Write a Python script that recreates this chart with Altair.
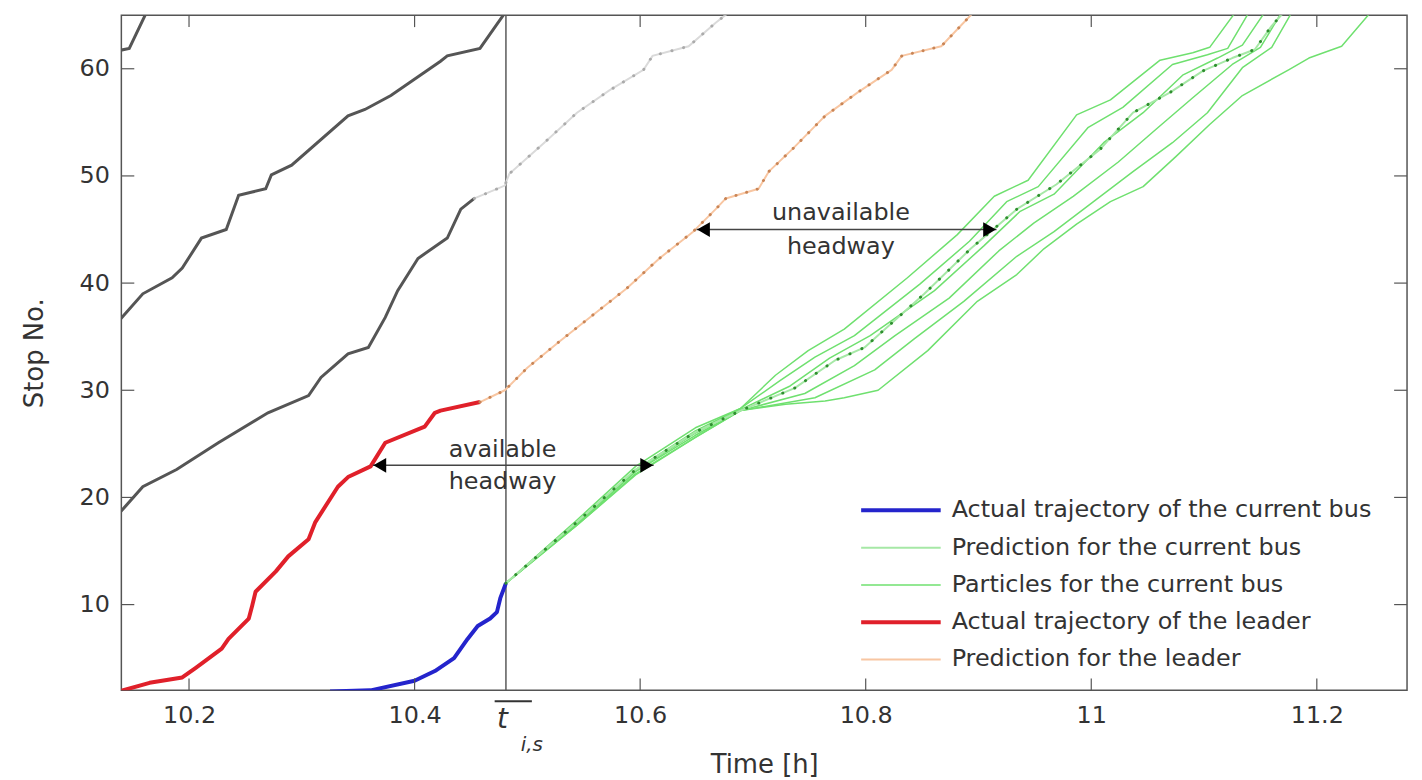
import altair as alt
import pandas as pd

# ---------------- data ----------------
T_MIN, T_MAX = 10.14, 11.28
S_MIN, S_MAX = 2, 65
x_ticks = [10.2, 10.4, 10.6, 10.8, 11.0, 11.2]
y_ticks = [10, 20, 30, 40, 50, 60]
t_is = 10.481

# other buses (gray)
gray_a_t = [10.138, 10.147, 10.162]
gray_a_s = [61.7, 61.9, 65.2]
gray_b_t = [10.138, 10.159, 10.185, 10.194, 10.211, 10.233, 10.244, 10.256, 10.268, 10.273,
            10.291, 10.341, 10.356, 10.379, 10.423, 10.429, 10.458, 10.480]
gray_b_s = [36.5, 39.0, 40.5, 41.4, 44.2, 45.0, 48.2, 48.5, 48.8, 50.1,
            51.0, 55.6, 56.2, 57.5, 60.7, 61.2, 61.9, 65.2]
gray_c_t = [10.138, 10.159, 10.189, 10.226, 10.270, 10.306, 10.317, 10.341, 10.359, 10.374,
            10.385, 10.403, 10.429, 10.441, 10.453]
gray_c_s = [18.5, 21.0, 22.6, 25.1, 27.9, 29.5, 31.2, 33.4, 34.0, 36.8,
            39.3, 42.3, 44.2, 46.9, 47.9]
ltgray_t = [10.453, 10.480, 10.484, 10.515, 10.544, 10.573, 10.603, 10.611, 10.643, 10.667, 10.678]
ltgray_s = [47.9, 49.1, 50.2, 53.1, 55.9, 58.0, 59.9, 61.2, 62.1, 64.3, 65.2]

# leader
red_t = [10.138, 10.165, 10.194, 10.206, 10.229, 10.235, 10.253, 10.256, 10.259, 10.277, 10.288,
         10.306, 10.312, 10.332, 10.341, 10.361, 10.374, 10.409, 10.418, 10.423, 10.458]
red_s = [1.9, 2.7, 3.2, 4.1, 5.9, 6.8, 8.7, 9.9, 11.2, 13.1, 14.5,
         16.1, 17.7, 21.0, 21.9, 22.9, 25.1, 26.6, 27.9, 28.1, 28.9]
orange_t = [10.458, 10.480, 10.500, 10.529, 10.559, 10.588, 10.617, 10.647, 10.667, 10.676,
            10.705, 10.714, 10.735, 10.764, 10.793, 10.823, 10.832, 10.867, 10.876, 10.895]
orange_s = [28.9, 30.0, 32.1, 34.6, 37.1, 39.5, 42.3, 44.8, 46.9, 47.9,
            48.8, 50.4, 52.5, 55.6, 57.8, 59.9, 61.2, 62.1, 63.1, 65.2]

# current bus
blue_t = [10.325, 10.361, 10.400, 10.418, 10.435, 10.447, 10.456, 10.467, 10.473, 10.476, 10.481]
blue_s = [1.9, 2.0, 2.9, 3.8, 5.0, 6.8, 8.0, 8.7, 9.3, 10.6, 12.0]

pred_t = [10.481, 10.544, 10.596, 10.649, 10.689, 10.737, 10.773, 10.799, 10.852, 10.893,
          10.934, 10.969, 11.008, 11.037, 11.070, 11.099, 11.125, 11.145, 11.160, 11.171]
pred_s = [12.0, 17.7, 22.6, 26.1, 28.1, 30.2, 32.8, 34.0, 39.0, 43.2,
          46.9, 49.2, 52.5, 55.9, 57.8, 59.8, 61.0, 61.8, 64.0, 65.3]

p1_t = [10.481, 10.544, 10.596, 10.649, 10.689, 10.720, 10.749, 10.781, 10.837, 10.881,
        10.914, 10.944, 10.987, 11.017, 11.061, 11.090, 11.105, 11.128]
p1_s = [12.0, 17.9, 22.9, 26.5, 28.3, 31.4, 33.7, 35.7, 40.5, 44.5,
        48.1, 49.6, 55.7, 57.1, 60.8, 61.5, 62.0, 65.3]
p2_t = [10.481, 10.544, 10.596, 10.649, 10.689, 10.724, 10.755, 10.790, 10.848, 10.892,
        10.925, 10.953, 10.997, 11.028, 11.072, 11.103, 11.121, 11.140]
p2_s = [12.0, 17.7, 22.6, 26.2, 28.3, 30.9, 33.1, 35.1, 39.9, 43.9,
        47.6, 49.0, 54.5, 56.4, 60.4, 61.3, 61.9, 65.3]
p3_t = [10.481, 10.544, 10.596, 10.649, 10.689, 10.733, 10.768, 10.804, 10.861, 10.905,
        10.937, 10.967, 11.011, 11.046, 11.081, 11.112, 11.134, 11.154]
p3_s = [12.0, 17.6, 22.5, 26.0, 28.2, 30.4, 33.0, 35.1, 39.3, 43.5,
        46.7, 48.3, 53.1, 55.9, 59.4, 61.0, 62.2, 65.3]
p4_t = [10.481, 10.544, 10.596, 10.649, 10.689, 10.746, 10.790, 10.826, 10.874, 10.918,
        10.949, 10.984, 11.024, 11.059, 11.090, 11.125, 11.150, 11.169]
p4_s = [12.0, 17.5, 22.4, 25.8, 28.1, 29.7, 32.3, 35.1, 38.6, 43.0,
        45.6, 48.1, 51.3, 54.5, 57.3, 60.4, 62.0, 65.3]
p5_t = [10.481, 10.544, 10.596, 10.649, 10.689, 10.755, 10.808, 10.843, 10.887, 10.934,
        10.967, 11.002, 11.037, 11.072, 11.103, 11.134, 11.160, 11.178]
p5_s = [12.0, 17.4, 22.2, 25.6, 28.1, 29.3, 31.9, 34.8, 38.3, 42.5,
        44.8, 47.6, 50.4, 53.1, 55.9, 60.1, 62.0, 65.3]
p6_t = [10.481, 10.544, 10.596, 10.649, 10.689, 10.729, 10.764, 10.781, 10.811, 10.855,
        10.899, 10.934, 10.958, 10.987, 11.017, 11.046, 11.075, 11.105, 11.134, 11.175,
        11.193, 11.222, 11.248]
p6_s = [12.0, 17.4, 22.1, 25.6, 28.1, 28.7, 29.0, 29.3, 30.0, 33.7,
        38.3, 40.8, 43.2, 45.5, 47.6, 49.0, 51.8, 54.8, 57.5, 59.9,
        61.0, 62.1, 65.3]

# headway arrows
arrow_t0 = [10.363, 10.650]
arrow_t1 = [10.612, 10.916]
arrow_s = [23.0, 45.0]
note_t = [10.478, 10.478, 10.778, 10.778]
note_s = [24.4, 21.4, 46.5, 43.4]
note_txt = ["available", "headway", "unavailable", "headway"]

# legend
S_BLUE = "Actual trajectory of the current bus"
S_PRED = "Prediction for the current bus"
S_PART = "Particles for the current bus"
S_RED = "Actual trajectory of the leader"
S_ORNG = "Prediction for the leader"
legend_names = [S_BLUE, S_PRED, S_PART, S_RED, S_ORNG]
legend_colors = ["#2424cc", "#a6e8a6", "#6fe06f", "#e0202a", "#f8c6a2"]
legend_widths = [4, 2, 1.5, 4, 2]


# ---------------- tables ----------------
def seg(ts, ss, line, series):
    return pd.DataFrame({"t": ts, "s": ss, "line": line, "series": series,
                         "idx": list(range(len(ts)))})


gray_df = pd.concat([seg(gray_a_t, gray_a_s, "a", "g"),
                     seg(gray_b_t, gray_b_s, "b", "g"),
                     seg(gray_c_t, gray_c_s, "c", "g")])
ltgray_df = seg(ltgray_t, ltgray_s, "lg", "lg")
particles = [(p1_t, p1_s), (p2_t, p2_s), (p3_t, p3_s), (p4_t, p4_s), (p5_t, p5_s), (p6_t, p6_s)]
main_df = pd.concat(
    [seg(pt, ps, f"p{i}", S_PART) for i, (pt, ps) in enumerate(particles)]
    + [seg(pred_t, pred_s, "pred", S_PRED),
       seg(orange_t, orange_s, "orange", S_ORNG),
       seg(red_t, red_s, "red", S_RED),
       seg(blue_t, blue_s, "blue", S_BLUE)])
pred_df = seg(pred_t, pred_s, "pred", S_PRED)
orange_df = seg(orange_t, orange_s, "orange", S_ORNG)
arrows_df = pd.DataFrame({"t0": arrow_t0, "t1": arrow_t1, "s": arrow_s})
notes_df = pd.DataFrame({"t": note_t, "s": note_s, "txt": note_txt})

# ---------------- chart ----------------
W, H = 1293, 679
FONT = "DejaVu Sans"
TXT = "#333333"
FRAME = "#555555"

xs = alt.Scale(domain=[T_MIN, T_MAX], nice=False, zero=False)
ys = alt.Scale(domain=[S_MIN, S_MAX], nice=False, zero=False)
x_axis = alt.Axis(values=x_ticks, format="~g", title="Time [h]", labelPadding=13,
                  titlePadding=25, labelFlush=False)
y_axis = alt.Axis(values=y_ticks, title="Stop No.", labelPadding=12, titlePadding=32)


def X(f):
    return alt.X(f, type="quantitative", scale=xs, axis=x_axis)


def Y(f):
    return alt.Y(f, type="quantitative", scale=ys, axis=y_axis)


leg = alt.Legend(title=None, orient="none", legendX=772, legendY=486,
                 symbolType="M-4,0H4", symbolSize=400, symbolStrokeWidth=3,
                 labelFont=FONT, labelFontSize=24, labelColor=TXT, labelOffset=39,
                 rowPadding=13.5, padding=0, labelLimit=700)

vline = alt.Chart(pd.DataFrame({"t": [t_is]})).mark_rule(color="#5a5a5a", strokeWidth=1.5).encode(x=X("t"))

gray = alt.Chart(gray_df).mark_line(color="#555555", strokeWidth=3, clip=True).encode(
    x=X("t"), y=Y("s"), detail="line:N", order="idx:Q")
ltgray = alt.Chart(ltgray_df).mark_line(color="#dadada", strokeWidth=2, clip=True).encode(
    x=X("t"), y=Y("s"), order="idx:Q")
ltgray_dots = alt.Chart(ltgray_df).mark_line(color="#ababab", strokeWidth=3, strokeDash=[0.1, 12],
                                             strokeCap="round", clip=True).encode(
    x=X("t"), y=Y("s"), order="idx:Q")

main = alt.Chart(main_df).mark_line(clip=True, strokeJoin="round").encode(
    x=X("t"), y=Y("s"),
    color=alt.Color("series:N", scale=alt.Scale(domain=legend_names, range=legend_colors), legend=leg),
    strokeWidth=alt.StrokeWidth("series:N", scale=alt.Scale(type="ordinal", domain=legend_names,
                                                            range=legend_widths), legend=leg),
    detail="line:N", order="idx:Q")

pred_dots = alt.Chart(pred_df).mark_line(color="#2f8f2f", strokeWidth=3, strokeDash=[0.1, 13],
                                         strokeCap="round", clip=True).encode(
    x=X("t"), y=Y("s"), order="idx:Q")
orange_dots = alt.Chart(orange_df).mark_line(color="#c98556", strokeWidth=3, strokeDash=[0.1, 11],
                                             strokeCap="round", clip=True).encode(
    x=X("t"), y=Y("s"), order="idx:Q")

arrow_lines = alt.Chart(arrows_df).mark_rule(color="#444444", strokeWidth=1.5).encode(
    x=X("t0"), x2="t1", y=Y("s"))
left_heads = alt.Chart(arrows_df).mark_point(shape="triangle-left", filled=True, color="black",
                                             size=220, opacity=1, xOffset=7).encode(x=X("t0"), y=Y("s"))
right_heads = alt.Chart(arrows_df).mark_point(shape="triangle-right", filled=True, color="black",
                                              size=220, opacity=1, xOffset=-7).encode(x=X("t1"), y=Y("s"))
notes = alt.Chart(notes_df).mark_text(font=FONT, fontSize=24, color=TXT, align="center",
                                      baseline="middle").encode(x=X("t"), y=Y("s"), text="txt:N")

xt = pd.DataFrame({"v": x_ticks})
yt = pd.DataFrame({"v": y_ticks})
bottom_ticks = alt.Chart(xt).mark_rule(color=FRAME, strokeWidth=1.2).encode(
    x=X("v"), y=alt.value(H), y2=alt.value(H - 12))
top_ticks = alt.Chart(xt).mark_rule(color=FRAME, strokeWidth=1.2).encode(
    x=X("v"), y=alt.value(0), y2=alt.value(12))
left_ticks = alt.Chart(yt).mark_rule(color=FRAME, strokeWidth=1.2).encode(
    y=Y("v"), x=alt.value(0), x2=alt.value(13))
right_ticks = alt.Chart(yt).mark_rule(color=FRAME, strokeWidth=1.2).encode(
    y=Y("v"), x=alt.value(W), x2=alt.value(W - 13))

tis_df = pd.DataFrame({"t0": [10.471], "t1": [10.504], "tt": [10.478], "ts": [10.504]})
overline = alt.Chart(tis_df).mark_rule(color=TXT, strokeWidth=2).encode(
    x=X("t0"), x2="t1", y=alt.value(H + 11))
t_text = alt.Chart(tis_df).mark_text(text="t", font=FONT, fontStyle="italic", fontSize=28,
                                     color=TXT, baseline="middle").encode(x=X("tt"), y=alt.value(H + 30))
sub_text = alt.Chart(tis_df).mark_text(text="i,s", font=FONT, fontStyle="italic", fontSize=20,
                                       color=TXT, baseline="middle").encode(x=X("ts"), y=alt.value(H + 55))

chart = alt.layer(
    vline, gray, ltgray, ltgray_dots, main, pred_dots, orange_dots,
    arrow_lines, left_heads, right_heads, notes,
    bottom_ticks, top_ticks, left_ticks, right_ticks,
    overline, t_text, sub_text,
).properties(
    width=W, height=H,
    autosize=alt.AutoSizeParams(type="none"),
    padding={"left": 114, "top": 5, "right": 7, "bottom": 95},
    background="white",
).configure_view(
    stroke=FRAME, strokeWidth=1.5
).configure_axis(
    grid=False, domain=False, ticks=False,
    labelFont=FONT, labelFontSize=24, labelColor=TXT,
    titleFont=FONT, titleFontSize=26, titleFontWeight="normal", titleColor=TXT,
)

chart.save("out.html", embed_options={"renderer": "svg", "actions": False})
